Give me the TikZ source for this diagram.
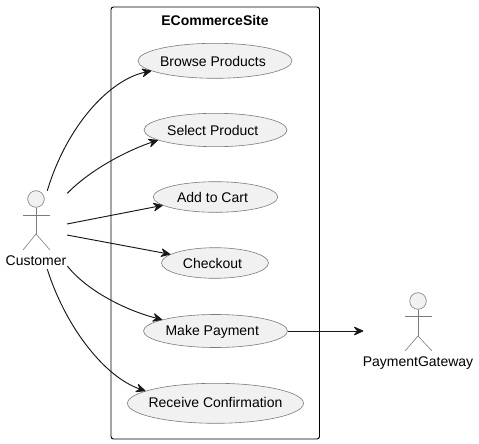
\documentclass[tikz,border=0pt]{standalone}
\usepackage{fontspec}
\setmainfont{Liberation Sans}
\usetikzlibrary{arrows.meta,shapes.geometric}
\definecolor{ucfill}{HTML}{F1F1F1}
\definecolor{ucline}{HTML}{7B7B7B}
\definecolor{edgec}{HTML}{181818}
\newcommand{\uctext}[3]{\makebox[0pt][c]{\hspace{#1}\smash{\raisebox{#2}{#3}}}}
\tikzset{
  usecase/.style={draw=ucline,fill=ucfill,ellipse,line width=0.6pt,inner sep=0pt,font=\fontsize{14pt}{16pt}\selectfont,text=black},
  arr/.style={draw=edgec,line width=0.95pt,-{Stealth[length=11pt,width=10pt,inset=4pt,round]}},
  stick/.style={draw=ucline,line width=0.6pt},
  actorlabel/.style={font=\fontsize{14pt}{16pt}\selectfont,text=black,inner sep=0pt},
}
\begin{document}
\begin{tikzpicture}[x=1pt,y=-1pt]
\useasboundingbox (0,0) rectangle (479,444);
\node[draw=black,line width=0.95pt,rounded corners=2.5pt,minimum width=208.5pt,minimum height=432pt,inner sep=0pt] (site) at (215.25,223) {};
\node[font=\bfseries\fontsize{14pt}{16pt}\selectfont,inner sep=0pt] (sitetitle) at (215,20) {ECommerceSite};
\node[usecase,minimum width=154pt,minimum height=35pt] (browse) at (215,60.8) {\uctext{-4pt}{-5.6pt}{Browse Products}};
\node[usecase,minimum width=143pt,minimum height=33.4pt] (select) at (215.5,130) {\uctext{-5.5pt}{-5pt}{Select Product}};
\node[usecase,minimum width=124.5pt,minimum height=30.6pt] (cart) at (215.5,197) {\uctext{-6pt}{-5.3pt}{Add to Cart}};
\node[usecase,minimum width=107pt,minimum height=30.6pt] (checkout) at (215,263) {\uctext{-5pt}{-5.3pt}{Checkout}};
\node[usecase,minimum width=144pt,minimum height=33pt] (payment) at (215.5,331) {\uctext{-6.5pt}{-4.4pt}{Make Payment}};
\node[usecase,minimum width=176pt,minimum height=40pt] (receive) at (215.5,403.3) {\uctext{0pt}{-4pt}{Receive Confirmation}};
% Customer
\node[draw=ucline,fill=ucfill,circle,line width=0.6pt,minimum size=16.6pt,inner sep=0pt] (custhead) at (36,199) {};
\coordinate (custhip) at (36,234);
\draw[stick] (custhead) -- (custhip);
\draw[stick] (23,215) -- (50,215);
\draw[stick] (23,250) -- (custhip) -- (50,250);
\node[actorlabel] (customer) at (36,261) {Customer};
% Gateway
\node[draw=ucline,fill=ucfill,circle,line width=0.6pt,minimum size=16.6pt,inner sep=0pt] (gwhead) at (418,301) {};
\coordinate (gwhip) at (418,336);
\draw[stick] (gwhead) -- (gwhip);
\draw[stick] (405,316) -- (432,316);
\draw[stick] (405,351) -- (gwhip) -- (432,351);
\node[actorlabel] (gateway) at (418,363) {PaymentGateway};
% connector ends
\coordinate (s1) at (47.3,190.7);
\coordinate (s2) at (67.3,193.3);
\coordinate (s3) at (67,224);
\coordinate (s4) at (67,235);
\coordinate (s5) at (67.3,266);
\coordinate (s6) at (47.3,269.3);
\coordinate (gwin) at (363.3,331);
\draw[arr] (s1) .. controls (66,128) and (108,80) .. (browse.189.5);
\draw[arr] (s2) .. controls (92,168) and (130,149.5) .. (select.190.6);
\draw[arr] (s3) -- (cart.189.8);
\draw[arr] (s4) -- (checkout.169.8);
\draw[arr] (s5) .. controls (88,292) and (128,311) .. (payment.168.4);
\draw[arr] (s6) .. controls (66,328) and (105,377) .. (receive.170);
\draw[arr] (payment) -- (gwin);
\end{tikzpicture}
\end{document}
